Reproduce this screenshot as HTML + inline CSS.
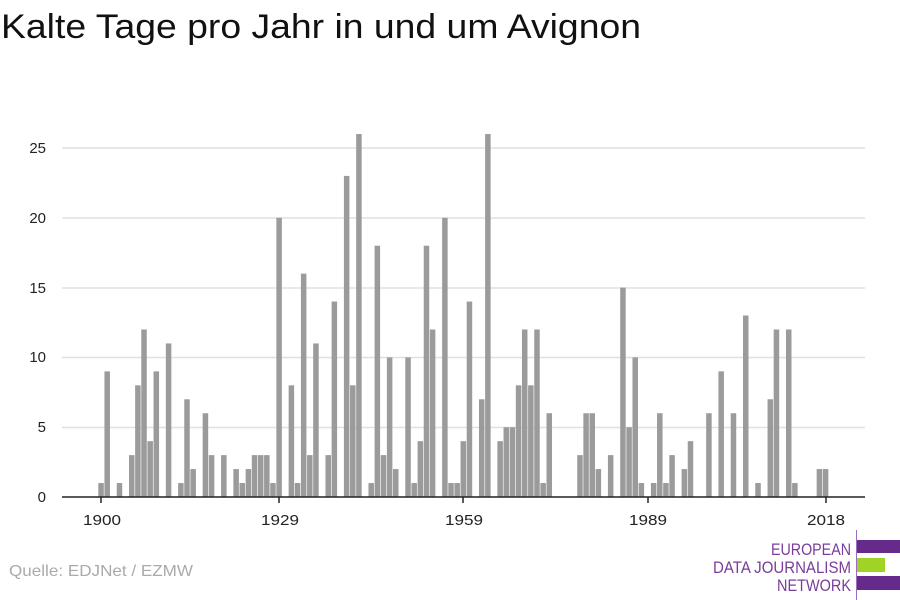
<!DOCTYPE html>
<html><head><meta charset="utf-8">
<style>
html,body{margin:0;padding:0;background:#fff;width:900px;height:600px;overflow:hidden}
svg{display:block;font-family:"Liberation Sans",sans-serif}
</style></head>
<body>
<svg id="s" width="900" height="600" viewBox="0 0 900 600" xmlns="http://www.w3.org/2000/svg">
<text x="1" y="38" font-size="34" fill="#111" textLength="640" lengthAdjust="spacingAndGlyphs">Kalte Tage pro Jahr in und um Avignon</text>
<g stroke="#e0e0e0" stroke-width="1.5">
<line x1="62" x2="865" y1="148" y2="148"/>
<line x1="62" x2="865" y1="218" y2="218"/>
<line x1="62" x2="865" y1="288" y2="288"/>
<line x1="62" x2="865" y1="357.5" y2="357.5"/>
<line x1="62" x2="865" y1="427.5" y2="427.5"/>
</g>
<g font-size="15" fill="#222" text-anchor="end">
<text x="46" y="153">25</text>
<text x="46" y="223">20</text>
<text x="46" y="293">15</text>
<text x="46" y="362">10</text>
<text x="46" y="432">5</text>
<text x="46" y="502">0</text>
</g>
<g id="bars" fill="#9b9b9b"></g>
<line x1="62" x2="865" y1="497" y2="497" stroke="#222" stroke-width="1.5"/>
<g stroke="#222" stroke-width="1.5">
<line x1="101" x2="101" y1="497" y2="503"/>
<line x1="279" x2="279" y1="497" y2="503"/>
<line x1="463" x2="463" y1="497" y2="503"/>
<line x1="648" x2="648" y1="497" y2="503"/>
<line x1="826" x2="826" y1="497" y2="503"/>
</g>
<g font-size="15" fill="#222" text-anchor="middle">
<text x="102" y="525" textLength="38" lengthAdjust="spacingAndGlyphs">1900</text>
<text x="280" y="525" textLength="38" lengthAdjust="spacingAndGlyphs">1929</text>
<text x="464" y="525" textLength="38" lengthAdjust="spacingAndGlyphs">1959</text>
<text x="648" y="525" textLength="38" lengthAdjust="spacingAndGlyphs">1989</text>
<text x="826" y="525" textLength="38" lengthAdjust="spacingAndGlyphs">2018</text>
</g>
<text x="9" y="576" font-size="16" fill="#aaa" textLength="184" lengthAdjust="spacingAndGlyphs">Quelle: EDJNet / EZMW</text>
<line x1="856.5" x2="856.5" y1="530" y2="600" stroke="#9a6fbf" stroke-width="1"/>
<rect x="857" y="540" width="43" height="13" fill="#662a8a"/>
<rect x="857" y="558" width="28" height="14" fill="#9fd326"/>
<rect x="857" y="576" width="43" height="14" fill="#662a8a"/>
<g font-size="17" fill="#7a3d9a" text-anchor="end">
<text x="851" y="555" textLength="80" lengthAdjust="spacingAndGlyphs">EUROPEAN</text>
<text x="851" y="573" textLength="138" lengthAdjust="spacingAndGlyphs">DATA JOURNALISM</text>
<text x="851" y="591" textLength="74" lengthAdjust="spacingAndGlyphs">NETWORK</text>
</g>
</svg>
<script>
var d={1900:1,1901:9,1903:1,1905:3,1906:8,1907:12,1908:4,1909:9,1911:11,1913:1,1914:7,1915:2,1917:6,1918:3,1920:3,1922:2,1923:1,1924:2,1925:3,1926:3,1927:3,1928:1,1929:20,1931:8,1932:1,1933:16,1934:3,1935:11,1937:3,1938:14,1940:23,1941:8,1942:26,1944:1,1945:18,1946:3,1947:10,1948:2,1950:10,1951:1,1952:4,1953:18,1954:12,1956:20,1957:1,1958:1,1959:4,1960:14,1962:7,1963:26,1965:4,1966:5,1967:5,1968:8,1969:12,1970:8,1971:12,1972:1,1973:6,1978:3,1979:6,1980:6,1981:2,1983:3,1985:15,1986:5,1987:10,1988:1,1990:1,1991:6,1992:1,1993:3,1995:2,1996:4,1999:6,2001:9,2003:6,2005:13,2007:1,2009:7,2010:12,2012:12,2013:1,2017:2,2018:2};
var g=document.getElementById('bars'),ns='http://www.w3.org/2000/svg';
for(var y in d){var v=d[y],cx=101+(y-1900)*6.14,h=v*13.96;
var r=document.createElementNS(ns,'rect');r.setAttribute('x',(cx-2.7).toFixed(2));r.setAttribute('width','5.5');
r.setAttribute('y',(497-h).toFixed(2));r.setAttribute('height',h.toFixed(2));g.appendChild(r);}
</script>
</body></html>
